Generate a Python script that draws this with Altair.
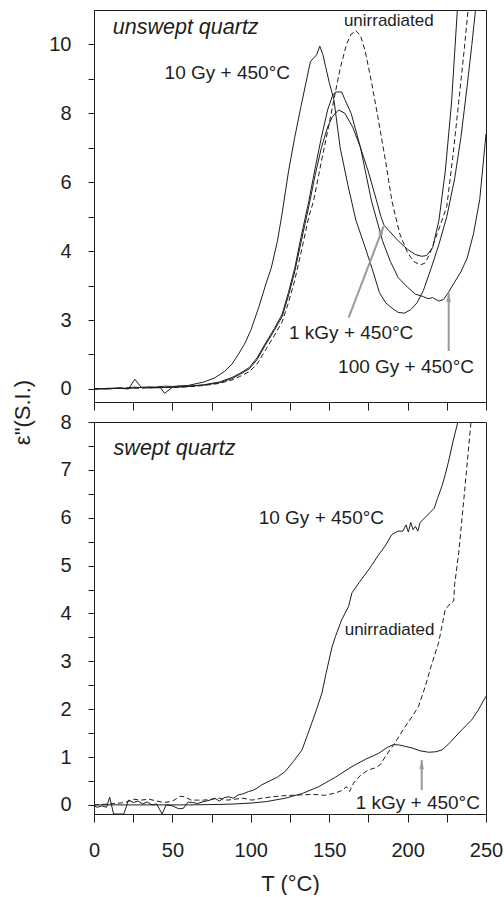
import altair as alt
import pandas as pd

FONT = "Liberation Sans"
INK = "#1e1e1e"
ARROW = "#9a9a9a"

# ---------------- data: top panel (unswept quartz) ----------------
T_TOP_10GY = [0, 5, 10, 15, 20, 25, 30, 35, 40, 45, 50, 55, 60, 65, 70, 77, 83, 88, 92, 96,
              100, 105, 110, 113, 117, 120, 124, 128, 132, 135, 138, 140, 142, 144, 146, 148, 150, 153, 157, 162,
              167, 173, 178, 182, 186, 190, 194, 198, 202, 206, 210, 215, 220, 225, 230, 234, 238, 241, 244]
V_TOP_10GY = [0.0, 0.01, 0.0, 0.03, 0.02, 0.05, 0.04, 0.06, 0.05, 0.08, 0.07, 0.09, 0.1, 0.15, 0.2, 0.32, 0.5, 0.72, 1.0, 1.3,
              1.7, 2.36, 3.1, 3.5, 4.3, 5.1, 6.3, 7.3, 8.2, 8.85, 9.5, 9.6, 9.7, 9.95, 9.7, 9.3, 8.9, 8.4, 7.0, 5.9,
              4.9, 4.1, 3.4, 2.8, 2.5, 2.35, 2.22, 2.2, 2.3, 2.5, 2.85, 3.5, 4.2, 5.0, 6.1, 7.3, 8.8, 10.0, 11.3]

T_TOP_100GY = [0, 8, 15, 22, 26, 30, 36, 42, 45, 50, 55, 60, 70, 80, 88, 93, 99, 104, 109, 115,
               120, 124, 128, 132, 137, 141, 145, 149, 152, 154, 158, 160, 164, 170, 177, 184, 189, 194, 200, 205,
               210, 213, 216, 220, 223, 226, 230, 234, 238, 242, 246, 250]
V_TOP_100GY = [0.0, 0.0, 0.02, 0.0, 0.28, 0.05, 0.03, 0.06, -0.13, 0.05, 0.06, 0.08, 0.12, 0.2, 0.33, 0.45, 0.62, 0.9, 1.3, 1.75,
               2.17, 2.8, 3.5, 4.4, 5.45, 6.4, 7.3, 8.1, 8.5, 8.62, 8.62, 8.4, 8.0, 7.0, 5.45, 4.3, 3.7, 3.23, 2.95, 2.75,
               2.68, 2.62, 2.65, 2.55, 2.6, 2.8, 3.1, 3.4, 3.8, 4.5, 5.5, 7.4]

T_TOP_1KGY = [0, 10, 20, 30, 40, 50, 60, 70, 80, 88, 93, 99, 104, 109, 115, 120, 124, 128, 132, 137,
              141, 145, 149, 152, 156, 160, 165, 170, 175, 180, 183, 185, 188, 194, 200, 205, 209, 212, 216, 220,
              224, 228, 232]
V_TOP_1KGY = [0.0, 0.02, 0.01, 0.04, 0.03, 0.05, 0.07, 0.11, 0.18, 0.3, 0.42, 0.58, 0.85, 1.25, 1.7, 2.1, 2.7, 3.4, 4.25, 5.3,
              6.2, 7.0, 7.6, 7.9, 8.1, 8.0, 7.6, 7.0, 6.3, 5.5, 5.0, 4.75, 4.6, 4.3, 4.05, 3.9, 3.85, 3.87, 4.1, 4.9,
              6.3, 8.3, 11.2]

T_TOP_UNIRR = [0, 10, 20, 30, 40, 50, 60, 70, 80, 88, 93, 99, 104, 109, 115, 120, 124, 128, 132, 137,
               140, 145, 150, 153, 157, 161, 164, 167, 170, 173, 177, 181, 186, 190, 195, 200, 204, 208, 211, 214,
               218, 222, 225, 229, 233, 236, 239]
V_TOP_UNIRR = [0.0, 0.01, 0.03, 0.02, 0.05, 0.04, 0.06, 0.1, 0.16, 0.26, 0.36, 0.5, 0.72, 1.1, 1.55, 1.95, 2.5, 3.15, 3.95, 5.0,
               5.45, 6.6, 7.7, 8.4, 9.3, 10.0, 10.3, 10.4, 10.25, 9.8, 8.9, 7.9, 6.6, 5.45, 4.5, 3.95, 3.7, 3.6, 3.65, 3.9,
               4.4, 4.9, 5.3, 6.8, 8.5, 9.8, 11.2]

# ---------------- data: bottom panel (swept quartz) ----------------
T_BOT_10GY = [0, 2, 5, 8, 10, 12.5, 19, 22, 25, 28, 31, 34, 37, 40, 43.4, 46, 50, 54, 57, 60,
              63, 66, 70, 74, 77, 80, 83, 86, 89, 92, 95, 98.6, 101, 104, 107, 112, 117, 122, 127, 132.7,
              136, 139, 142, 145.4, 148, 151.8, 154, 158, 162.4, 164.5, 169, 173, 177, 181, 185.7, 190, 194, 197, 199, 200.5,
              202, 203.5, 205, 206.5, 208, 211, 214, 217, 219, 222, 224, 226, 229, 232.5, 235]
V_BOT_10GY = [-0.02, -0.05, -0.02, -0.05, 0.16, -0.19, -0.19, 0.1, 0.05, 0.08, 0.02, 0.06, 0.0, 0.02, -0.19, 0.0, -0.02, -0.08, -0.07, 0.06,
              0.05, 0.03, 0.07, 0.1, 0.14, 0.08, 0.15, 0.17, 0.14, 0.21, 0.23, 0.28, 0.3, 0.35, 0.42, 0.5, 0.58, 0.7, 0.9, 1.15,
              1.45, 1.72, 2.0, 2.34, 2.75, 3.3, 3.52, 3.87, 4.15, 4.43, 4.64, 4.82, 5.0, 5.2, 5.41, 5.65, 5.72, 5.72, 5.85, 5.7,
              5.9, 5.75, 5.82, 5.72, 5.9, 6.0, 6.1, 6.2, 6.4, 6.67, 6.9, 7.16, 7.6, 8.06, 8.5]

T_BOT_UNIRR = [0, 10, 20, 25, 30, 35, 40, 45, 50, 55, 58, 62, 66, 70, 75, 80, 85, 90, 95, 100.8,
               107, 113.5, 120, 126, 132.7, 140, 147, 154, 158, 161, 163, 165.6, 170, 175, 180, 182.6, 185.8, 192, 198.5, 203,
               207, 211.3, 215, 219.8, 224, 227, 229.4, 230, 232.6, 236.7, 239, 240.6, 242]
V_BOT_UNIRR = [0.0, 0.02, 0.05, 0.12, 0.1, 0.12, 0.08, 0.05, 0.08, 0.18, 0.17, 0.1, 0.1, 0.1, 0.12, 0.14, 0.1, 0.12, 0.14, 0.1,
               0.14, 0.17, 0.19, 0.2, 0.21, 0.22, 0.2, 0.25, 0.3, 0.38, 0.28, 0.46, 0.62, 0.73, 0.78, 0.84, 1.01, 1.3, 1.64, 1.85,
               2.06, 2.48, 2.9, 3.39, 4.08, 4.2, 4.26, 4.6, 5.27, 6.67, 7.5, 8.06, 8.6]

T_BOT_1KGY = [0, 20, 40, 60, 80, 90, 100.8, 110, 122, 133, 143.3, 154, 164.5, 173, 181.6, 187, 191, 195, 202.8, 208,
              213.4, 218, 222, 227, 232.6, 237, 241, 245, 250]
V_BOT_1KGY = [0.0, 0.0, 0.0, 0.0, 0.01, 0.02, 0.04, 0.07, 0.14, 0.24, 0.38, 0.58, 0.8, 0.95, 1.08, 1.2, 1.26, 1.25, 1.19, 1.13,
              1.1, 1.11, 1.15, 1.3, 1.5, 1.65, 1.78, 1.98, 2.27]

# ---------------- annotations ----------------
TOP_TITLE = ["unswept quartz"]; TOP_TITLE_T = [12]; TOP_TITLE_V = [10.47]
TOP_LABELS = ["10 Gy + 450°C", "1 kGy + 450°C", "100 Gy + 450°C"]
TOP_LABELS_T = [85, 164, 199]
TOP_LABELS_V = [9.17, 1.63, 0.64]
TOP_SMALL = ["unirradiated"]; TOP_SMALL_T = [188]; TOP_SMALL_V = [10.67]

BOT_TITLE = ["swept quartz"]; BOT_TITLE_T = [12.5]; BOT_TITLE_V = [7.43]
BOT_LABELS = ["10 Gy + 450°C", "1 kGy + 450°C"]
BOT_LABELS_T = [145, 206.5]
BOT_LABELS_V = [6.0, 0.04]
BOT_SMALL = ["unirradiated"]; BOT_SMALL_T = [188.5]; BOT_SMALL_V = [3.66]

# arrows: tail (T, v) -> tip (T2, v2)
TOP_ARROW_T = [162.4, 226.2]; TOP_ARROW_V = [2.07, 1.1]
TOP_ARROW_T2 = [184.7, 226.2]; TOP_ARROW_V2 = [4.72, 2.79]
BOT_ARROW_T = [209]; BOT_ARROW_V = [0.31]
BOT_ARROW_T2 = [209]; BOT_ARROW_V2 = [0.94]


def long_df(items):
    rows = []
    for name, ts, vs in items:
        for t, v in zip(ts, vs):
            rows.append({"series": name, "T": t, "v": v})
    return pd.DataFrame(rows)


def text_df(labels, ts, vs):
    return pd.DataFrame({"label": labels, "T": ts, "v": vs})


def arrow_df(t, v, t2, v2):
    return pd.DataFrame({"T": t, "v": v, "T2": t2, "v2": v2})


x_scale = alt.Scale(domain=[0, 250], nice=False, zero=False)
X_TICKS = list(range(0, 251, 25))

ARROW_HEAD = "M0,0L0.42,1.7L-0.42,1.7Z"


def panel(solid, dashed, y_scale, y_axis, x_axis, titles, labels, smalls, arrows, head_angles):
    x = alt.X("T:Q", scale=x_scale, axis=x_axis)
    y = alt.Y("v:Q", scale=y_scale, axis=y_axis)
    layers = [
        alt.Chart(solid).mark_line(color=INK, strokeWidth=1, clip=True).encode(x=x, y=y, detail="series:N"),
        alt.Chart(dashed).mark_line(color=INK, strokeWidth=1, strokeDash=[5, 3], clip=True).encode(x=x, y=y, detail="series:N"),
        alt.Chart(arrows).mark_rule(color=ARROW, strokeWidth=2).encode(
            x=x, y=y, x2=alt.X2("T2:Q"), y2=alt.Y2("v2:Q")),
    ]
    for i, ang in enumerate(head_angles):
        tip = arrows.iloc[[i]][["T2", "v2"]].rename(columns={"T2": "T", "v2": "v"})
        layers.append(
            alt.Chart(tip).mark_point(shape=ARROW_HEAD, filled=True, size=120, angle=ang,
                                      color=ARROW, opacity=1, strokeWidth=0).encode(x=x, y=y))
    layers += [
        alt.Chart(titles).mark_text(font=FONT, fontSize=21.5, fontStyle="italic", align="left",
                                    baseline="middle", color=INK).encode(x=x, y=y, text="label:N"),
        alt.Chart(labels).mark_text(font=FONT, fontSize=19, align="center",
                                    baseline="middle", color=INK).encode(x=x, y=y, text="label:N"),
        alt.Chart(smalls).mark_text(font=FONT, fontSize=17, align="center",
                                    baseline="middle", color=INK).encode(x=x, y=y, text="label:N"),
    ]
    return alt.layer(*layers).properties(width=392, height=392)


top_solid = long_df([("10 Gy", T_TOP_10GY, V_TOP_10GY), ("100 Gy", T_TOP_100GY, V_TOP_100GY),
                     ("1 kGy", T_TOP_1KGY, V_TOP_1KGY)])
top_dash = long_df([("unirradiated", T_TOP_UNIRR, V_TOP_UNIRR)])
bot_solid = long_df([("10 Gy", T_BOT_10GY, V_BOT_10GY), ("1 kGy", T_BOT_1KGY, V_BOT_1KGY)])
bot_dash = long_df([("unirradiated", T_BOT_UNIRR, V_BOT_UNIRR)])

top_y_axis = alt.Axis(values=list(range(0, 11)), format=".0f",
                      labelExpr="datum.value == 2 ? '3' : (datum.value % 2 == 0 ? datum.label : '')",
                      tickSize=6, labelPadding=17, labelOverlap=False,
                      title='ε"(S.I.)', titleX=-72, titleY=402, titleAngle=270,
                      titleAlign="center", titleBaseline="middle", titleFontSize=22)
bot_y_axis = alt.Axis(values=[i / 2 for i in range(0, 17)], format=".0f",
                      labelExpr="datum.value % 1 == 0 ? datum.label : ''",
                      tickSize=6, labelPadding=17, labelOverlap=False, title=None)
top_x_axis = alt.Axis(values=X_TICKS, labels=False, tickSize=8, title=None)
bot_x_axis = alt.Axis(values=X_TICKS, format=".0f", labelExpr="datum.value % 50 == 0 ? datum.label : ''",
                      tickSize=8, labelPadding=18, labelOverlap=False, labelFlush=False,
                      title="T (°C)", titlePadding=13, titleFontSize=22)

top = panel(top_solid, top_dash, alt.Scale(domain=[-0.38, 11], nice=False, zero=False), top_y_axis, top_x_axis,
            text_df(TOP_TITLE, TOP_TITLE_T, TOP_TITLE_V),
            text_df(TOP_LABELS, TOP_LABELS_T, TOP_LABELS_V),
            text_df(TOP_SMALL, TOP_SMALL_T, TOP_SMALL_V),
            arrow_df(TOP_ARROW_T, TOP_ARROW_V, TOP_ARROW_T2, TOP_ARROW_V2),
            [21, 0])
bottom = panel(bot_solid, bot_dash, alt.Scale(domain=[-0.19, 8], nice=False, zero=False), bot_y_axis, bot_x_axis,
               text_df(BOT_TITLE, BOT_TITLE_T, BOT_TITLE_V),
               text_df(BOT_LABELS, BOT_LABELS_T, BOT_LABELS_V),
               text_df(BOT_SMALL, BOT_SMALL_T, BOT_SMALL_V),
               arrow_df(BOT_ARROW_T, BOT_ARROW_V, BOT_ARROW_T2, BOT_ARROW_V2),
               [0])

chart = alt.vconcat(top, bottom, spacing=20, bounds="flush").properties(
    padding={"left": 10, "top": 9, "right": 0, "bottom": 0},
    background="white",
).configure_view(
    stroke=INK, strokeWidth=1
).configure_axis(
    grid=False, domainColor=INK, tickColor=INK, labelColor=INK, titleColor=INK,
    labelFont=FONT, titleFont=FONT, labelFontSize=20, titleFontSize=20,
    titleFontWeight="normal", domainWidth=1, tickWidth=1,
)

chart.save("out.html", embed_options={"renderer": "svg", "actions": False})
